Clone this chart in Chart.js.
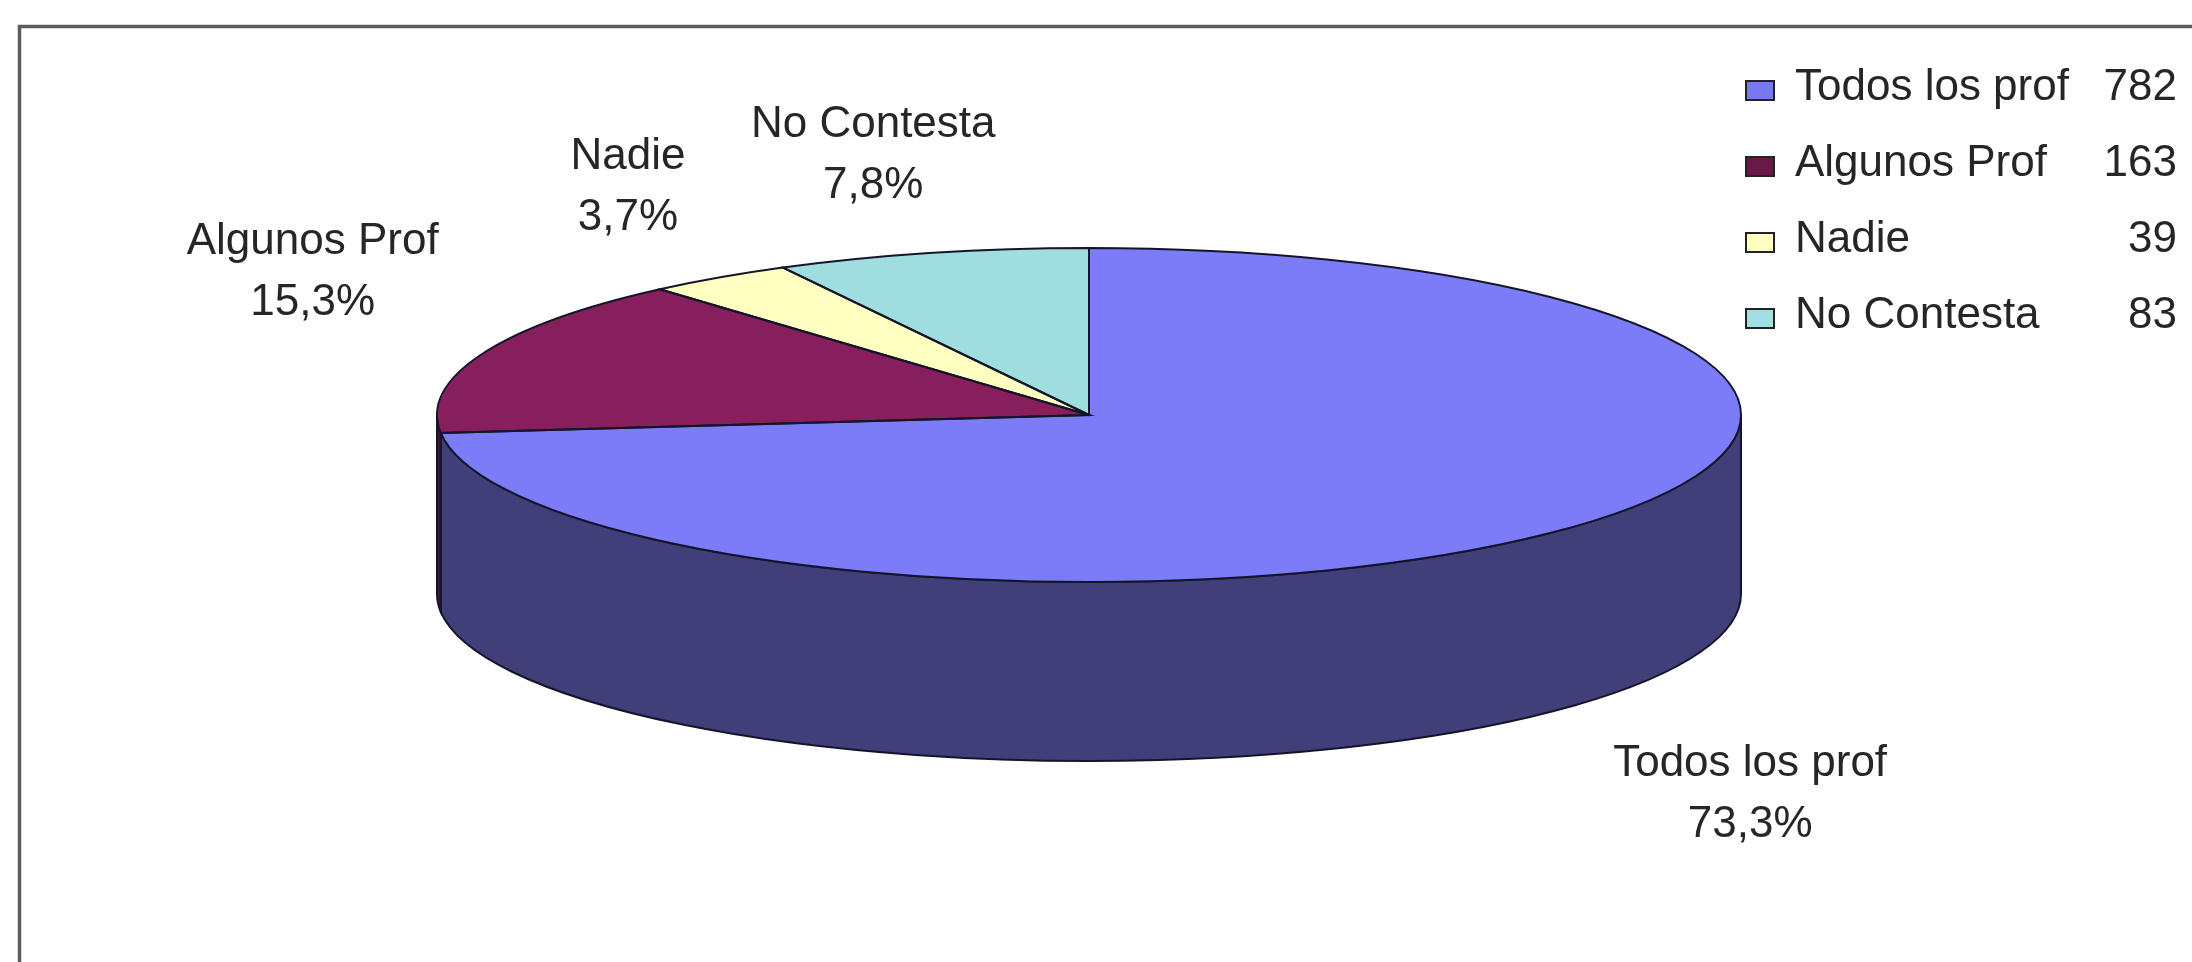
<!DOCTYPE html>
<html lang="es">
  <head>
    <meta charset="UTF-8" />
    <title>Profesores</title>
    <script src="https://cdn.jsdelivr.net/npm/chart.js"></script>
    <style>
      html,
      body {
        margin: 0;
        padding: 0;
        background: #fff;
      }
      #wrap {
        width: 2192px;
        height: 962px;
      }
    </style>
  </head>
  <body>
    <div id="wrap"><canvas id="pie" width="2192" height="962"></canvas></div>
  </body>
  <script>
    const categories = ["Todos los prof", "Algunos Prof", "Nadie", "No Contesta"];
    const counts = [782, 163, 39, 83];

    const topColors = ["#7c7cf8", "#861f5c", "#ffffc2", "#9fdedf"];
    const sideColors = ["#403f7a", "#4a1233", "#8f8f66", "#507070"];
    const keyColors = ["#7878f0", "#6a1848", "#ffffc2", "#a0e0e0"];

    // where each slice label sits, relative to the rim point at the slice middle
    const labelNudge = [
      [176, 70],
      [-169, -100],
      [-91, -109],
      [-58, -116],
    ];

    const total = counts.reduce((a, b) => a + b, 0);
    const pctText = (v) => ((v / total) * 100).toFixed(1).replace(".", ",") + "%";

    // tilted pie: top ellipse and rim height
    const PIE = { x: 1089, y: 415, rx: 652, ry: 167, depth: 179 };
    const FONT = '44px "Liberation Sans", Arial, sans-serif';
    const INK = "#262626";
    const EDGE = "#15152a";

    const ellPt = (a, dy = 0) => [
      PIE.x + PIE.rx * Math.cos(a),
      PIE.y + dy + PIE.ry * Math.sin(a),
    ];

    const pie3d = {
      id: "pie3d",
      beforeDraw(chart) {
        const ctx = chart.ctx;
        // frame around the plot (runs off the right and bottom)
        ctx.save();
        ctx.strokeStyle = "#5c5c5c";
        ctx.lineWidth = 3.5;
        ctx.beginPath();
        ctx.moveTo(2192, 26.5);
        ctx.lineTo(19.5, 26.5);
        ctx.lineTo(19.5, 962);
        ctx.stroke();
        ctx.restore();
      },
      beforeDatasetsDraw(chart) {
        const ctx = chart.ctx;
        const arcs = chart.getDatasetMeta(0).data;

        // rim: only the front half (0..PI) faces the viewer
        ctx.save();
        ctx.lineWidth = 2;
        ctx.strokeStyle = EDGE;
        arcs.forEach((arc, i) => {
          for (const k of [-2, 0, 2]) {
            const s = Math.max(arc.startAngle, k * Math.PI);
            const e = Math.min(arc.endAngle, (k + 1) * Math.PI);
            if (e <= s) continue;
            ctx.beginPath();
            ctx.ellipse(PIE.x, PIE.y, PIE.rx, PIE.ry, 0, s, e);
            ctx.ellipse(PIE.x, PIE.y + PIE.depth, PIE.rx, PIE.ry, 0, e, s, true);
            ctx.closePath();
            ctx.fillStyle = sideColors[i];
            ctx.fill();
            ctx.stroke();
          }
        });
        ctx.restore();

        // squash the library's circle into the top ellipse
        const a0 = arcs[0];
        const r = a0.outerRadius;
        ctx.save();
        ctx.translate(PIE.x, PIE.y);
        ctx.scale(PIE.rx / r, PIE.ry / r);
        ctx.translate(-a0.x, -a0.y);
      },
      afterDatasetsDraw(chart) {
        const ctx = chart.ctx;
        ctx.restore();

        // slice outlines drawn unscaled so the line width stays even
        const arcs = chart.getDatasetMeta(0).data;
        ctx.save();
        ctx.lineWidth = 2;
        ctx.strokeStyle = EDGE;
        arcs.forEach((arc) => {
          ctx.beginPath();
          ctx.moveTo(PIE.x, PIE.y);
          ctx.ellipse(PIE.x, PIE.y, PIE.rx, PIE.ry, 0, arc.startAngle, arc.endAngle);
          ctx.closePath();
          ctx.stroke();
        });
        ctx.restore();
      },
      afterDraw(chart) {
        const ctx = chart.ctx;
        const arcs = chart.getDatasetMeta(0).data;
        ctx.save();
        ctx.font = FONT;
        ctx.fillStyle = INK;
        ctx.textBaseline = "alphabetic";

        // slice labels: name and share
        ctx.textAlign = "center";
        arcs.forEach((arc, i) => {
          const mid = (arc.startAngle + arc.endAngle) / 2;
          const front = Math.sin(mid) > 0;
          const [ax, ay] = ellPt(mid, front ? PIE.depth : 0);
          const x = ax + labelNudge[i][0];
          const y = ay + labelNudge[i][1];
          ctx.fillText(categories[i], x, y);
          ctx.fillText(pctText(counts[i]), x, y + 61);
        });

        // key with counts
        categories.forEach((name, i) => {
          const base = 100 + i * 76;
          ctx.fillStyle = keyColors[i];
          ctx.fillRect(1746, base - 19, 28, 19);
          ctx.strokeStyle = "#222";
          ctx.lineWidth = 2;
          ctx.strokeRect(1746, base - 19, 28, 19);
          ctx.fillStyle = INK;
          ctx.textAlign = "left";
          ctx.fillText(name, 1795, base);
          ctx.textAlign = "right";
          ctx.fillText(String(counts[i]), 2177, base);
        });
        ctx.restore();
      },
    };

    new Chart(document.getElementById("pie"), {
      type: "pie",
      data: {
        labels: categories,
        datasets: [
          {
            data: counts,
            backgroundColor: topColors,
            borderWidth: 0,
            clip: false,
          },
        ],
      },
      options: {
        responsive: false,
        animation: false,
        devicePixelRatio: 1,
        events: [],
        plugins: {
          legend: { display: false },
          tooltip: { enabled: false },
        },
      },
      plugins: [pie3d],
    });
  </script>
</html>
